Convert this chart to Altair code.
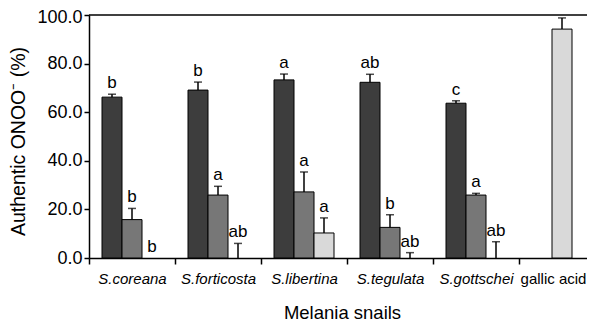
import altair as alt
import pandas as pd

groups = ["S.coreana", "S.forticosta", "S.libertina", "S.tegulata", "S.gottschei", "gallic acid"]
dark_vals = [66.2, 69.1, 73.3, 72.3, 63.7]
dark_err = [1.2, 3.3, 2.4, 3.3, 1.0]
dark_letters = ["b", "b", "a", "ab", "c"]
mid_vals = [15.8, 25.9, 27.2, 12.6, 25.9]
mid_err = [4.6, 3.6, 8.2, 5.2, 0.7]
mid_letters = ["b", "a", "a", "b", "a"]
light_vals = [0.0, 0.0, 10.3, 0.0, 0.0]
light_err = [0.0, 6.0, 6.2, 2.2, 6.7]
light_letters = ["b", "ab", "a", "ab", "ab"]
gallic_val = 94.2
gallic_err = 4.6

rows = []
for i, g in enumerate(groups[:5]):
    rows.append(dict(group=g, pos=0, shade="dark", value=dark_vals[i], err=dark_err[i], letter=dark_letters[i]))
    rows.append(dict(group=g, pos=1, shade="mid", value=mid_vals[i], err=mid_err[i], letter=mid_letters[i]))
    rows.append(dict(group=g, pos=2, shade="light", value=light_vals[i], err=light_err[i], letter=light_letters[i]))
rows.append(dict(group="gallic acid", pos=1, shade="light", value=gallic_val, err=gallic_err, letter=""))
df = pd.DataFrame(rows)
df["top"] = df["value"] + df["err"]

FONT = "Liberation Sans, Arial, sans-serif"

x = alt.X(
    "group:N",
    sort=groups,
    scale=alt.Scale(paddingInner=0, paddingOuter=0),
    axis=alt.Axis(
        title="Melania snails",
        titleFont=FONT,
        titleFontSize=18.5,
        titleFontWeight="normal",
        titleColor="black",
        titleX=253,
        titleY=60,
        titleBaseline="alphabetic",
        titleAlign="center",
        labelFont=FONT,
        labelFontSize=15,
        labelColor="black",
        labelAngle=0,
        labelBaseline="alphabetic",
        labelPadding=19,
        labelFontStyle={"condition": {"test": "datum.value == 'gallic acid'", "value": "normal"}, "value": "italic"},
        labelOffset={"condition": {"test": "datum.value == 'gallic acid'", "value": -9}, "value": 0},
        tickBand="extent",
        tickSize=6,
        tickWidth=1.5,
        tickColor="black",
        domainColor="black",
        domainWidth=1.5,
    ),
)
xoff = alt.XOffset("pos:O", scale=alt.Scale(domain=[0, 1, 2], paddingInner=0, paddingOuter=0.65))
y_scale = alt.Scale(domain=[0, 100], nice=False)
y_axis = alt.Axis(
    values=[0, 20, 40, 60, 80, 100],
    format=".1f",
    title="Authentic ONOO\u207b (%)",
    titleFont=FONT,
    titleFontSize=19.5,
    titleFontWeight="normal",
    titleColor="black",
    titleAngle=270,
    titleX=-65,
    titleY=126,
    titleAlign="center",
    titleBaseline="alphabetic",
    labelFont=FONT,
    labelFontSize=18,
    labelColor="black",
    labelPadding=2,
    labelOffset={"condition": {"test": "datum.value == 100", "value": 2.5}, "value": 0},
    tickSize=5,
    tickWidth=1.5,
    tickColor="black",
    domainColor="black",
    domainWidth=1.5,
    grid=False,
)
color = alt.Color(
    "shade:N",
    scale=alt.Scale(domain=["dark", "mid", "light"], range=["#3d3d3d", "#777777", "#d9d9d9"]),
    legend=None,
)

base = alt.Chart(df)

bars = base.transform_filter("datum.value > 0").mark_bar(stroke="black", strokeWidth=1).encode(
    x=x, xOffset=xoff, y=alt.Y("value:Q", scale=y_scale, axis=y_axis), color=color
)
err_rule = base.transform_filter("datum.err > 0").mark_rule(color="black", strokeWidth=1.5).encode(
    x=x, xOffset=xoff, y="value:Q", y2="top:Q"
)
err_cap = base.transform_filter("datum.err > 0").mark_tick(
    color="black", thickness=1.5, size=8, orient="horizontal"
).encode(x=x, xOffset=xoff, y="top:Q")
letters = base.transform_filter("datum.letter != ''").mark_text(
    font=FONT, fontSize=17, color="black", baseline="alphabetic", dy=-6
).encode(x=x, xOffset=xoff, y="top:Q", text="letter:N")

top_line = alt.Chart(pd.DataFrame({"v": [100]})).mark_rule(color="black", strokeWidth=1.5).encode(y="v:Q")

chart = alt.layer(bars, err_rule, err_cap, letters, top_line).properties(
    width=516,
    height=243,
    autosize=alt.AutoSizeParams(type="none"),
    padding={"left": 81, "top": 7, "right": -18, "bottom": 66},
).configure_view(strokeWidth=0)

chart.save("out.html", embed_options={"renderer": "svg", "actions": False})
